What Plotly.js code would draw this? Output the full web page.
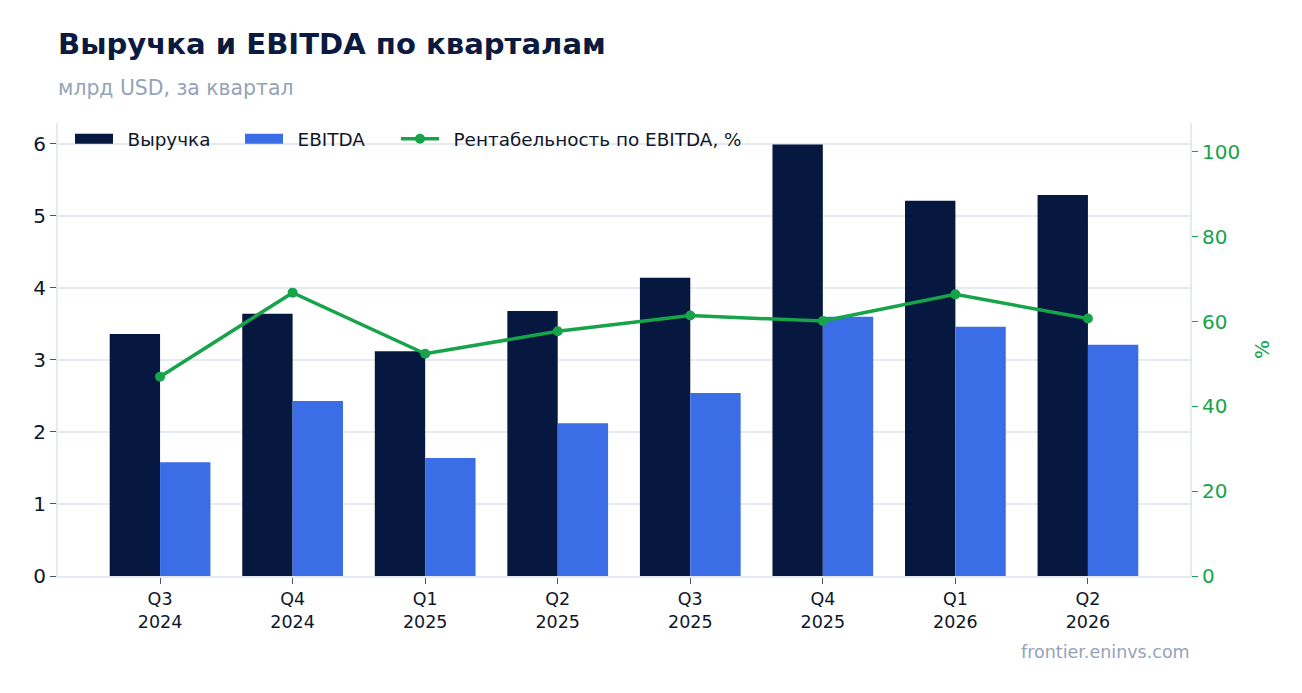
<!DOCTYPE html>
<html>
<head>
<meta charset="utf-8">
<script src="https://cdn.plot.ly/plotly-3.0.1.min.js"></script>
<style>
  html, body { margin: 0; padding: 0; background: #fff; }
  #chart { width: 1302px; height: 693px; }
</style>
</head>
<body>
<div id="chart"></div>
<script>
// quarters and values
var quarters = ['Q3<br>2024', 'Q4<br>2024', 'Q1<br>2025', 'Q2<br>2025', 'Q3<br>2025', 'Q4<br>2025', 'Q1<br>2026', 'Q2<br>2026'];
var revenue = [3.36, 3.64, 3.12, 3.68, 4.14, 5.99, 5.21, 5.29];
var ebitda  = [1.58, 2.43, 1.64, 2.12, 2.54, 3.60, 3.46, 3.21];
var margin  = [47.0, 66.8, 52.4, 57.7, 61.4, 60.1, 66.4, 60.7];

var font = 'DejaVu Sans, sans-serif';
var grey = '#e5e9f0';
var navy = '#061740';
var blue = '#3a6de6';
var green = '#16a34a';
var pad = '\u00a0\u2009';  // little gap between swatch and legend text

var bars1 = {
  x: quarters, y: revenue, type: 'bar', name: 'Выручка',
  marker: {color: navy}, showlegend: false, hoverinfo: 'skip'
};
var bars2 = {
  x: quarters, y: ebitda, type: 'bar', name: 'EBITDA',
  marker: {color: blue}, showlegend: false, hoverinfo: 'skip'
};

// legend-only entries so the swatches are wide blocks like the original
var key1 = {
  x: [null], y: [null], type: 'scatter', mode: 'lines', name: pad + 'Выручка',
  line: {color: navy, width: 13}, legendwidth: 117, hoverinfo: 'skip'
};
var key2 = {
  x: [null], y: [null], type: 'scatter', mode: 'lines', name: pad + 'EBITDA',
  line: {color: blue, width: 13}, legendwidth: 103, hoverinfo: 'skip'
};

var line = {
  x: quarters, y: margin, type: 'scatter', mode: 'lines+markers',
  name: pad + 'Рентабельность по EBITDA, %', yaxis: 'y2',
  line: {color: green, width: 3.5},
  marker: {color: green, size: 10},
  hoverinfo: 'skip'
};

var layout = {
  width: 1302,
  height: 693,
  margin: {l: 58, r: 112, t: 123, b: 117},
  paper_bgcolor: '#fff',
  plot_bgcolor: '#fff',
  font: {family: font, color: '#0f172a', size: 16},
  barmode: 'group',
  bargap: 0.24,
  bargroupgap: 0,
  showlegend: true,
  legend: {
    orientation: 'h',
    x: 0.0106, y: 1.006,
    xanchor: 'left', yanchor: 'top',
    bgcolor: 'rgba(0,0,0,0)',
    itemwidth: 38,
    font: {size: 18.4, color: '#0f172a'},
    traceorder: 'normal'
  },
  xaxis: {
    type: 'category',
    range: [-0.77, 7.77],
    showline: true, linecolor: grey, linewidth: 2,
    ticks: 'outside', ticklen: 6, tickcolor: '#475569',
    tickfont: {size: 17.5, color: '#0f172a'},
    showgrid: false
  },
  yaxis: {
    range: [0, 6.29],
    showline: true, linecolor: grey, linewidth: 2,
    ticks: 'outside', ticklen: 6, tickcolor: '#475569',
    tickfont: {size: 20, color: '#0f172a'},
    gridcolor: grey, gridwidth: 2,
    dtick: 1, zeroline: false
  },
  yaxis2: {
    overlaying: 'y',
    side: 'right',
    range: [0, 106.8],
    showline: true, linecolor: grey, linewidth: 2,
    ticks: 'outside', ticklen: 6, tickcolor: green,
    tickfont: {size: 20, color: green},
    showgrid: false, zeroline: false,
    dtick: 20,
    title: {text: '%', font: {size: 20, color: green}, standoff: 16}
  },
  annotations: [
    {
      text: '<b>Выручка и EBITDA по кварталам</b>',
      xref: 'paper', yref: 'paper',
      x: 0, y: 1.174, xanchor: 'left', yanchor: 'middle',
      xshift: -2, showarrow: false,
      font: {size: 29.1, color: '#0b1a3f', family: font}
    },
    {
      text: 'млрд USD, за квартал',
      xref: 'paper', yref: 'paper',
      x: 0, y: 1.077, xanchor: 'left', yanchor: 'middle',
      xshift: -2, showarrow: false,
      font: {size: 20.4, color: '#94a3b8', family: font}
    },
    {
      text: 'frontier.eninvs.com',
      xref: 'paper', yref: 'paper',
      x: 1, y: -0.168, xanchor: 'right', yanchor: 'middle',
      xshift: 2, showarrow: false,
      font: {size: 17.5, color: '#94a3b8', family: font}
    }
  ]
};

Plotly.newPlot('chart', [bars1, bars2, key1, key2, line], layout, {displayModeBar: false, staticPlot: true});
</script>
</body>
</html>
